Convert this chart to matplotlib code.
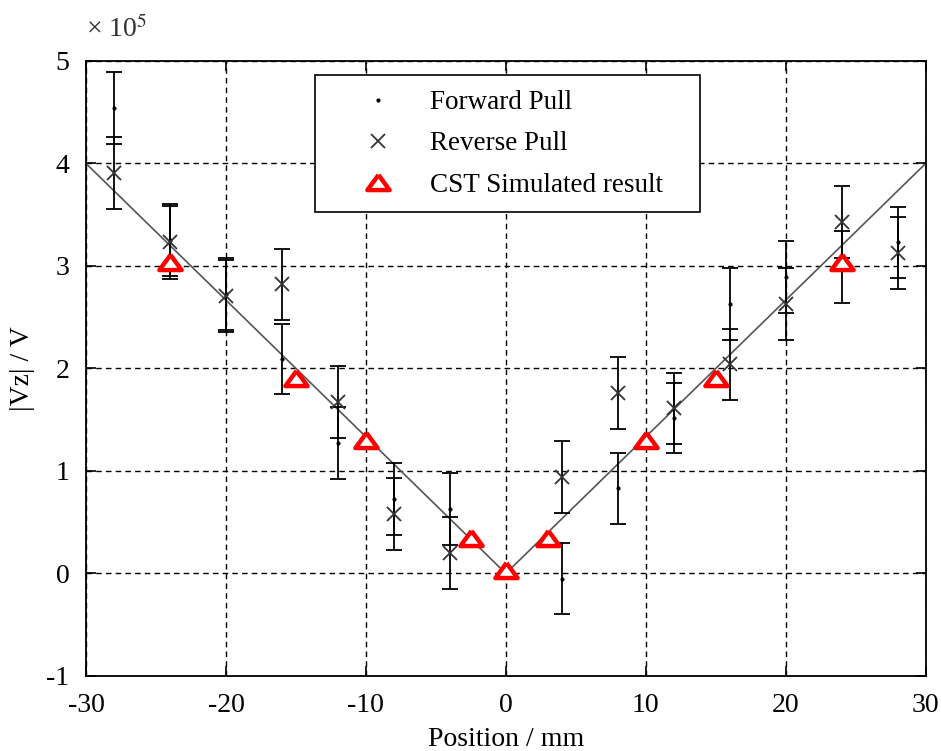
import matplotlib
matplotlib.use('Agg')
from matplotlib import pyplot as plt
from matplotlib.ticker import FuncFormatter
import numpy as np

plt.rcParams['font.family'] = ['Liberation Serif', 'DejaVu Serif']
plt.rcParams['mathtext.fontset'] = 'stix'
plt.rcParams['axes.unicode_minus'] = False

SCALE = 1e5

# measured positions (mm)
pos = [-28, -24, -20, -16, -12, -8, -4, 4, 8, 12, 16, 20, 24, 28]

# forward pull (x 1e5 V)
fwd = [4.54, 3.25, 2.73, 2.09, 1.27, 0.73, 0.63, -0.05, 0.83, 1.52, 2.63, 2.89, 2.99, 3.23]
fwd_err = [0.35, 0.35, 0.35, 0.34, 0.35, 0.35, 0.35, 0.35, 0.35, 0.34, 0.35, 0.35, 0.35, 0.35]

# reverse pull (x 1e5 V)
rev = [3.91, 3.23, 2.71, 2.82, 1.67, 0.58, 0.20, 0.94, 1.76, 1.61, 2.04, 2.63, 3.43, 3.13]
rev_err = [0.35, 0.36, 0.35, 0.35, 0.35, 0.35, 0.35, 0.35, 0.35, 0.35, 0.35, 0.35, 0.35, 0.35]

# CST simulation
cst_pos = [-24, -15, -10, -2.5, 0, 3, 10, 15, 24]
cst_val = [3.04, 1.91, 1.30, 0.35, 0.03, 0.35, 1.30, 1.91, 3.04]

# V-shaped guide line
line_x = [-30, 0, 30]
line_y = [4.0, 0.0, 4.0]

fig = plt.figure(figsize=(9.41, 7.51), dpi=100)
ax = fig.add_axes([0.0914, 0.0999, 0.8923, 0.8189])

s = lambda v: np.array(v) * SCALE

ax.plot(line_x, s(line_y), color='#555555', lw=1.2, zorder=2)

ebkw = dict(fmt='none', ecolor='black', elinewidth=1.3, capsize=6, capthick=1.3, zorder=3)
ax.errorbar(pos, s(fwd), yerr=s(fwd_err), **ebkw)
ax.errorbar(pos, s(rev), yerr=s(rev_err), **ebkw)

ax.plot(pos, s(fwd), ls='none', marker='.', ms=4, color='black', label='Forward Pull', zorder=4)
ax.plot(pos, s(rev), ls='none', marker='x', ms=10, mew=1.3, color='#333333', label='Reverse Pull', zorder=4)

tri = [(0, 0.68), (-1, -0.68), (1, -0.68), (0, 0.68)]
ax.plot(cst_pos, s(cst_val), ls='none', marker=tri, ms=16, mew=3.2, mfc='white', mec='red',
        label='CST Simulated result', zorder=5)

ax.set_xlim(-30, 30)
ax.set_ylim(-1 * SCALE, 5 * SCALE)
ax.set_xticks(np.arange(-30, 31, 10))
ax.set_yticks(s(np.arange(-1, 6, 1)))
ax.yaxis.set_major_formatter(FuncFormatter(lambda v, p: '%d' % round(v / SCALE)))
ax.text(0.0, 1.03, '\u00d7 10$^5$', transform=ax.transAxes, fontsize=20, color='#333333',
        ha='left', va='bottom')

ax.grid(True, color='black', ls=(0, (4, 3)), lw=1.0)
ax.tick_params(direction='in', length=7, width=1.2, top=True, right=True, labelsize=20, pad=12)
for sp in ax.spines.values():
    sp.set_linewidth(1.3)

ax.set_xlabel('Position / mm', fontsize=20, labelpad=7)
ax.set_ylabel('|Vz| / V', fontsize=20, labelpad=8)

leg = ax.legend(loc='upper left', bbox_to_anchor=(0.273, 0.766, 0.458, 0.211), mode='expand',
                borderaxespad=0, fontsize=19.5, fancybox=False, edgecolor='black', framealpha=1,
                labelspacing=0.6, handlelength=3.5, handletextpad=0.2, borderpad=0.55)
leg.get_frame().set_linewidth(1.2)

fig.savefig('out.png', dpi=100)
